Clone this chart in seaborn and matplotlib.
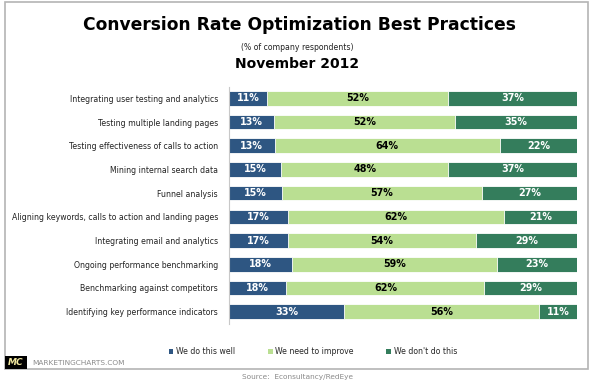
import numpy as np
import pandas as pd
import matplotlib
matplotlib.use("Agg")
import matplotlib.pyplot as plt
from matplotlib.patches import Rectangle, Patch
import seaborn as sns

categories = [
    "Integrating user testing and analytics",
    "Testing multiple landing pages",
    "Testing effectiveness of calls to action",
    "Mining internal search data",
    "Funnel analysis",
    "Aligning keywords, calls to action and landing pages",
    "Integrating email and analytics",
    "Ongoing performance benchmarking",
    "Benchmarking against competitors",
    "Identifying key performance indicators",
]
do_well = [11, 13, 13, 15, 15, 17, 17, 18, 18, 33]
need_improve = [52, 52, 64, 48, 57, 62, 54, 59, 62, 56]
dont_do = [37, 35, 22, 37, 27, 21, 29, 23, 29, 11]
series_names = ["We do this well", "We need to improve", "We don't do this"]
colors = ["#2E5682", "#BADF92", "#347D5C"]
text_colors = ["white", "black", "white"]

sns.set_theme(style="white")
plt.rcParams["font.family"] = ["DejaVu Sans"]

raw = np.array([do_well, need_improve, dont_do], dtype=float)
share = raw / raw.sum(axis=0) * 100
cum = np.cumsum(share, axis=0)

df = pd.DataFrame({
    "category": categories,
    "c1": cum[0], "c2": cum[1], "c3": cum[2],
})

W, H = 597, 383
fig = plt.figure(figsize=(W / 100, H / 100), dpi=100)
ax = fig.add_axes([229 / W, 1 - 323.5 / H, 348 / W, 237 / H])

# stacked bars via layering cumulative totals
for col, c in zip(["c3", "c2", "c1"], [colors[2], colors[1], colors[0]]):
    sns.barplot(data=df, x=col, y="category", orient="h", color=c,
                width=0.62, edgecolor="white", linewidth=0.6, ax=ax,
                order=categories, saturation=1)

ax.set_xlim(0, 100)
ax.set_ylim(9.5, -0.5)
ax.set_xlabel("")
ax.set_ylabel("")
ax.set_xticks([])
ax.tick_params(axis="y", which="major", length=0, labelsize=5.6, pad=8, labelcolor="#222222")
ax.set_yticks(np.arange(-0.5, 10, 1), minor=True)
ax.tick_params(axis="y", which="minor", length=3, width=0.6, color="#BBBBBB", direction="out")
for s in ["top", "right", "bottom"]:
    ax.spines[s].set_visible(False)
ax.spines["left"].set_color("#C8C8C8")
ax.spines["left"].set_linewidth(0.8)

# value labels
for k in range(3):
    lefts = cum[k] - share[k]
    for i in range(len(categories)):
        ax.text(lefts[i] + share[k][i] / 2, i, f"{int(raw[k][i])}%",
                ha="center", va="center", fontsize=6.9, fontweight="bold",
                color=text_colors[k])

# legend
handles = [Patch(facecolor=c, edgecolor="none") for c in colors]
fig.legend(handles, series_names, loc="center", ncol=3,
           bbox_to_anchor=(313 / W, 1 - 352 / H), frameon=False,
           fontsize=5.6, handlelength=0.6, handleheight=0.6,
           handletextpad=0.35, columnspacing=4.2)

# titles
fig.text(299 / W, 1 - 25 / H, "Conversion Rate Optimization Best Practices",
         ha="center", va="center", fontsize=12.3, fontweight="bold", color="black")
fig.text(297 / W, 1 - 47 / H, "(% of company respondents)",
         ha="center", va="center", fontsize=5.6, color="#222222")
fig.text(297 / W, 1 - 64 / H, "November 2012",
         ha="center", va="center", fontsize=10, fontweight="bold", color="black")

# frame
fig.patches.append(Rectangle((5 / W, 1 - 369 / H), 583 / W, 367 / H,
                             transform=fig.transFigure, fill=False,
                             edgecolor="#B4B4B4", linewidth=1.2))
# logo
fig.patches.append(Rectangle((5 / W, 1 - 369 / H), 22 / W, 13 / H,
                             transform=fig.transFigure, facecolor="black",
                             edgecolor="none"))
fig.text(16 / W, 1 - 362.5 / H, "MC", ha="center", va="center", fontsize=6.5,
         fontweight="bold", style="italic", color="#F3E9A0")
fig.text(32 / W, 1 - 363 / H, "MARKETINGCHARTS.COM", ha="left", va="center",
         fontsize=5.3, color="#8A8A8A")
fig.text(297 / W, 1 - 376.5 / H, "Source:  Econsultancy/RedEye", ha="center",
         va="center", fontsize=5.3, color="#8A8A8A")

fig.savefig("out.png", dpi=100)
